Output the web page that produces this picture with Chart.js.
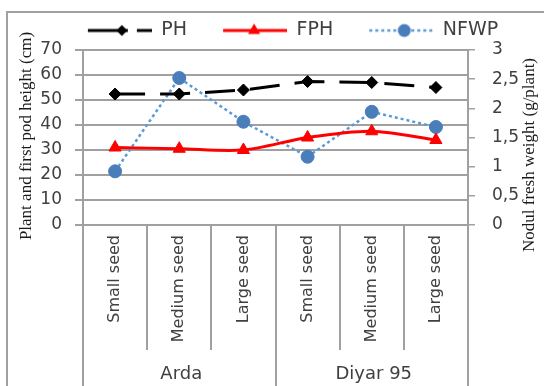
<!DOCTYPE html>
<html><head><meta charset="utf-8">
<script src="https://cdn.jsdelivr.net/npm/chart.js@4"></script>
<style>html,body{margin:0;padding:0;background:#fff}#wrap{width:544px;height:386px;position:relative}canvas{display:block}</style>
</head><body><div id="wrap"><canvas id="c" width="544" height="386"></canvas></div>
<script>
// ---- data ----
const categories = ['Small seed', 'Medium seed', 'Large seed', 'Small seed', 'Medium seed', 'Large seed'];
const groups = ['Arda', 'Diyar 95'];
const groupSizes = [3, 3];
const seriesNames = ['PH', 'FPH', 'NFWP'];
const phValues = [52.4, 52.4, 54.0, 57.4, 57.0, 55.0];
const fphValues = [31.0, 30.5, 30.0, 35.0, 37.5, 34.0];
const nfwpValues = [0.92, 2.52, 1.77, 1.17, 1.94, 1.68];
const leftAxisTitle = 'Plant and first pod height (cm)';
const rightAxisTitle = 'Nodul fresh weight (g/plant)';

// ---- styles ----
const GRID = '#a0a0a0';
const TXT = '#404040';
const SANS = "'DejaVu Sans', Verdana, sans-serif";
const SERIF = "'Liberation Serif', 'Times New Roman', serif";
const PH_COLOR = '#000000', FPH_COLOR = '#ff0000', NF_LINE = '#5b9bd5', NF_MARK = '#4a7ebb';

const LEG_W = 96, LEG_M = 32, LEG_H = 20;
function legendImg(kind) {
  const c = document.createElement('canvas');
  c.width = LEG_W; c.height = LEG_H;
  const g = c.getContext('2d');
  const y = LEG_H / 2, x0 = LEG_M, x1 = LEG_W;
  g.lineWidth = 3;
  if (kind === 0) {
    g.strokeStyle = PH_COLOR;
    g.beginPath(); g.moveTo(x0, y); g.lineTo(x0 + 40, y); g.stroke();
    g.beginPath(); g.moveTo(x0 + 49, y); g.lineTo(x1, y); g.stroke();
    g.fillStyle = PH_COLOR; const cx = x0 + 34, r = 5.5;
    g.beginPath(); g.moveTo(cx, y - r); g.lineTo(cx + r, y); g.lineTo(cx, y + r); g.lineTo(cx - r, y); g.closePath(); g.fill();
  } else if (kind === 1) {
    g.strokeStyle = FPH_COLOR;
    g.beginPath(); g.moveTo(x0, y); g.lineTo(x1, y); g.stroke();
    g.fillStyle = FPH_COLOR; const cx = x0 + 31, r = 7;
    g.beginPath(); g.moveTo(cx, y - r); g.lineTo(cx + r * 0.866, y + r / 2); g.lineTo(cx - r * 0.866, y + r / 2); g.closePath(); g.fill();
  } else {
    g.strokeStyle = NF_LINE; g.lineWidth = 2.5; g.setLineDash([3, 3]);
    g.beginPath(); g.moveTo(x0, y); g.lineTo(x1, y); g.stroke();
    g.setLineDash([]);
    g.fillStyle = NF_MARK; g.beginPath(); g.arc(x0 + 35, y, 6.5, 0, Math.PI * 2); g.fill();
  }
  return c;
}
const legendImages = [legendImg(0), legendImg(1), legendImg(2)];

const decor = {
  id: 'decor',
  afterInit(chart) {
    const lg = chart.legend;
    if (lg) {
      const f = lg.fit.bind(lg);
      lg.fit = function () { f(); this.height = 33; };
    }
  },
  beforeDraw(chart) {
    const ctx = chart.ctx;
    ctx.save();
    ctx.fillStyle = '#fff';
    ctx.fillRect(0, 0, chart.width, chart.height);
    ctx.strokeStyle = GRID; ctx.lineWidth = 2;
    ctx.strokeRect(7, 12, 600, 500);
    ctx.restore();
  },
  afterDraw(chart) {
    const ctx = chart.ctx;
    const xs = chart.scales.x;
    const area = chart.chartArea;
    const n = categories.length;
    const bounds = [];
    for (let i = 0; i <= n; i++) {
      if (i === 0) bounds.push(area.left);
      else if (i === n) bounds.push(area.right);
      else bounds.push((xs.getPixelForTick(i - 1) + xs.getPixelForTick(i)) / 2);
    }
    const groupEdges = [0];
    groupSizes.reduce((a, s) => { groupEdges.push(a + s); return a + s; }, 0);
    ctx.save();
    ctx.strokeStyle = GRID; ctx.lineWidth = 2;
    bounds.forEach((bx, i) => {
      const isGroup = groupEdges.includes(i);
      const x = Math.round(bx);
      ctx.beginPath();
      ctx.moveTo(x, area.bottom);
      ctx.lineTo(x, isGroup ? chart.height : 350);
      ctx.stroke();
    });
    ctx.fillStyle = TXT;
    ctx.font = '18px ' + SANS;
    ctx.textAlign = 'center'; ctx.textBaseline = 'middle';
    groups.forEach((gname, gi) => {
      const cx = (bounds[groupEdges[gi]] + bounds[groupEdges[gi + 1]]) / 2;
      ctx.fillText(gname, cx + 2, 374);
    });
    ctx.fillStyle = '#1a1a1a';
    ctx.font = '17px ' + SERIF;
    ctx.save(); ctx.translate(27, 136); ctx.rotate(-Math.PI / 2); ctx.fillText(leftAxisTitle, 0, 0); ctx.restore();
    ctx.save(); ctx.translate(530, 155); ctx.rotate(-Math.PI / 2); ctx.fillText(rightAxisTitle, 0, 0); ctx.restore();
    ctx.restore();
  }
};

new Chart(document.getElementById('c'), {
  type: 'line',
  data: {
    labels: categories,
    datasets: [
      { label: seriesNames[0], data: phValues, yAxisID: 'y', borderColor: PH_COLOR, backgroundColor: PH_COLOR,
        borderWidth: 3, borderDash: [30, 15], tension: 0, pointStyle: 'rectRot', pointRadius: 6,
        pointBackgroundColor: PH_COLOR, pointBorderColor: PH_COLOR, pointBorderWidth: 1 },
      { label: seriesNames[1], data: fphValues, yAxisID: 'y', borderColor: FPH_COLOR, backgroundColor: FPH_COLOR,
        borderWidth: 3, tension: 0.3, pointStyle: 'triangle', pointRadius: 7,
        pointBackgroundColor: FPH_COLOR, pointBorderColor: FPH_COLOR, pointBorderWidth: 1 },
      { label: seriesNames[2], data: nfwpValues, yAxisID: 'y1', borderColor: NF_LINE, backgroundColor: NF_MARK,
        borderWidth: 2.5, borderDash: [3, 3], tension: 0, pointStyle: 'circle', pointRadius: 6.5,
        pointBackgroundColor: NF_MARK, pointBorderColor: NF_MARK, pointBorderWidth: 1 }
    ]
  },
  options: {
    responsive: false,
    animation: false,
    devicePixelRatio: 1,
    layout: { padding: { top: 17, left: 10, right: 0, bottom: 0 } },
    plugins: {
      tooltip: { enabled: false },
      legend: {
        position: 'top',
        labels: {
          usePointStyle: true,
          pointStyleWidth: LEG_W,
          padding: 4,
          color: TXT,
          font: { family: SANS, size: 19 },
          generateLabels(chart) {
            const items = Chart.defaults.plugins.legend.labels.generateLabels(chart);
            items.forEach((it, i) => { it.pointStyle = legendImages[i]; });
            return items;
          }
        }
      }
    },
    scales: {
      x: {
        offset: true,
        grid: { display: true, offset: true, drawOnChartArea: false, drawTicks: false },
        border: { display: false },
        ticks: { color: TXT, font: { family: SANS, size: 16 }, minRotation: 90, maxRotation: 90, autoSkip: false, padding: 10 },
        afterFit(s) { s.height = 161; }
      },
      y: {
        position: 'left', min: 0, max: 70,
        grid: { color: GRID, lineWidth: 2, tickLength: 8 },
        border: { display: true, color: GRID, width: 2 },
        ticks: { stepSize: 10, color: TXT, font: { family: SANS, size: 17 }, padding: 13 },
        afterFit(s) { s.width = 73; }
      },
      y1: {
        position: 'right', min: 0, max: 3,
        grid: { drawOnChartArea: false, color: GRID, lineWidth: 1.5, tickLength: 7 },
        border: { display: true, color: GRID, width: 2 },
        ticks: { stepSize: 0.5, color: TXT, font: { family: SANS, size: 17 }, padding: 17,
          callback: v => String(v).replace('.', ',') },
        afterFit(s) { s.width = 76; }
      }
    }
  },
  plugins: [decor]
});
</script>
</body></html>
